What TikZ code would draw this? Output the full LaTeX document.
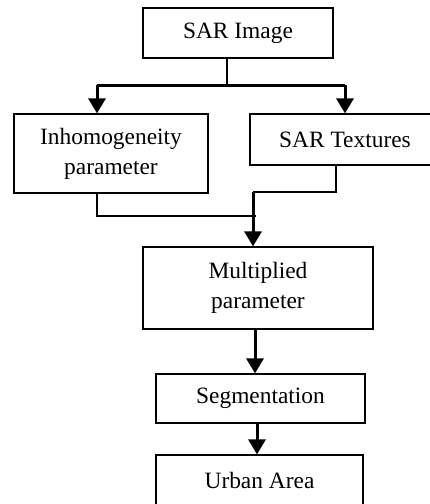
\documentclass[tikz,border=0pt]{standalone}
\usepackage{fontspec}
\setmainfont{Liberation Serif}
\usetikzlibrary{arrows.meta}

\begin{document}
\begin{tikzpicture}[x = 1pt, y = -1pt,
	box/.style = {draw, line width = 1.2pt, align = center, inner sep = 0pt,
		font = \fontsize{23.4}{30}\selectfont},
	link/.style = {line width = 1.5pt},
	flow/.style = {line width = 3pt},
	arr/.style = {flow, -{Triangle[width = 17pt, length = 15pt]}}]
	\useasboundingbox (0, 0) rectangle (430, 504);

	% Nodes
	\node[box, minimum width = 190pt, minimum height = 50pt] (img) at (238, 33) {SAR Image};
	\node[box, minimum width = 194pt, minimum height = 79pt] (inh) at (111, 153.5) {Inhomogeneity\\parameter};
	\node[box, minimum width = 190pt, minimum height = 51pt] (tex) at (345, 139.5) {SAR Textures};
	\node[box, minimum width = 230pt, minimum height = 82pt] (mul) at (258, 288) {Multiplied\\parameter};
	\node[box, minimum width = 209pt, minimum height = 49pt] (seg) at (260.5, 398.5) {Segmentation};
	\node[box, minimum width = 207pt, minimum height = 50pt] (urb) at (259.5, 480) {Urban Area};

	% Branch points
	\coordinate (split) at (227, 85);
	\coordinate (lt) at (97, 85);
	\coordinate (rt) at (345, 85);
	\coordinate (inhbend) at (97, 216);
	\coordinate (inhend) at (256, 216);
	\coordinate (texout) at (336, 165);
	\coordinate (texbend) at (336, 192);
	\coordinate (join) at (253, 192);

	% Edges
	\draw[link] (img.south -| split) -- (split);
	\draw[flow] (lt) -- (rt);
	\draw[arr] (lt) -- (lt |- inh.north);
	\draw[arr] (rt) -- (tex.north);
	\draw[link] (inh.south -| inhbend) -- (inhbend) -- (inhend);
	\draw[link] (texout) -- (texbend) -- (join);
	\draw[arr] (join) -- (join |- mul.north);
	\draw[arr] (mul.south -| 255, 0) -- (seg.north -| 255, 0);
	\draw[arr] (seg.south -| 257, 0) -- (urb.north -| 257, 0);
\end{tikzpicture}
\end{document}
